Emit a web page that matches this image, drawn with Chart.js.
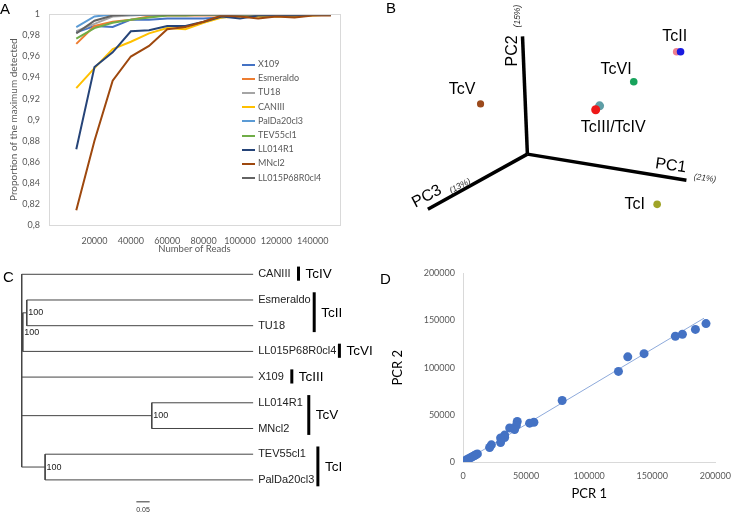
<!DOCTYPE html>
<html>
<head>
<meta charset="utf-8">
<script src="https://cdn.jsdelivr.net/npm/chart.js@4.4.0/dist/chart.umd.min.js"></script>
<style>
  body { margin: 0; background: #fff; width: 740px; height: 514px; position: relative; overflow: hidden; }
  .box { position: absolute; }
  .tag { position: absolute; font: 15px/1 "Liberation Sans", Arial, sans-serif; color: #000; }
  #legendA { position: absolute; left: 242px; top: 57px; font: 9px Lato, sans-serif; color: #595959; }
  #legendA div { height: 14.2px; line-height: 14.2px; white-space: nowrap; }
  #legendA span { display: inline-block; width: 13px; height: 2px; vertical-align: middle; margin-right: 3px; }
</style>
</head>
<body>
<div class="box" style="left:0;top:0;width:370px;height:260px"><canvas id="chartA"></canvas></div>
<div class="box" style="left:370px;top:0;width:370px;height:260px"><canvas id="chartB"></canvas></div>
<div class="box" style="left:0;top:260px;width:380px;height:254px"><canvas id="chartC"></canvas></div>
<div class="box" style="left:385px;top:260px;width:355px;height:254px"><canvas id="chartD"></canvas></div>
<div id="legendA"></div>
<div class="tag" style="left:0;top:1px">A</div>
<div class="tag" style="left:386px;top:0">B</div>
<div class="tag" style="left:3px;top:269px">C</div>
<div class="tag" style="left:380px;top:271px">D</div>
<script>
// --- panel A: saturation curves ---
const readCounts = [10000, 20000, 30000, 40000, 50000, 60000, 70000, 80000, 90000, 100000, 110000, 120000, 130000, 140000, 150000];
const readTicks = [20000, 40000, 60000, 80000, 100000, 120000, 140000];
const propTicks = [0.8, 0.82, 0.84, 0.86, 0.88, 0.9, 0.92, 0.94, 0.96, 0.98, 1];
const seriesNames = ['X109', 'Esmeraldo', 'TU18', 'CANIII', 'PalDa20cl3', 'TEV55cl1', 'LL014R1', 'MNcl2', 'LL015P68R0cl4'];
const seriesColors = ['#4472c4', '#ed7d31', '#a5a5a5', '#ffc000', '#5b9bd5', '#70ad47', '#264478', '#9e480e', '#636363'];
const x109 = [0.983, 0.989, 0.988, 0.995, 0.995, 0.996, 0.996, 0.996, 0.997, 0.999, 1, 1, 1, 1, 1];
const esmeraldo = [0.972, 0.989, 0.993, 0.995, 0.998, 0.999, 0.999, 0.999, 0.999, 1, 1, 1, 1, 1, 1];
const tu18 = [0.984, 0.991, 0.998, 0.999, 1, 1, 1, 1, 1, 1, 1, 1, 1, 1, 1];
const canIII = [0.930, 0.949, 0.967, 0.974, 0.982, 0.987, 0.986, 0.992, 0.997, 0.998, 0.998, 0.998, 0.998, 0.999, 1];
const palDa = [0.988, 0.998, 1, 1, 1, 1, 1, 1, 1, 1, 1, 1, 1, 1, 1];
const tev55 = [0.977, 0.987, 0.992, 0.995, 0.997, 0.999, 0.999, 1, 1, 1, 1, 1, 1, 1, 1];
const ll014 = [0.872, 0.950, 0.964, 0.984, 0.985, 0.989, 0.989, 0.993, 0.998, 0.996, 0.999, 0.999, 0.999, 1, 1];
const mncl2 = [0.814, 0.880, 0.937, 0.960, 0.970, 0.986, 0.988, 0.993, 0.999, 0.998, 0.996, 0.998, 0.997, 0.999, 0.999];
const ll015 = [0.982, 0.994, 0.999, 1, 1, 1, 1, 1, 1, 1, 1, 1, 1, 1, 1];
const seriesValues = [x109, esmeraldo, tu18, canIII, palDa, tev55, ll014, mncl2, ll015];

// --- panel B: PCA projection (arbitrary plane units, origin = axes origin) ---
const pcAxisNames = ['PC1', 'PC2', 'PC3'];
const pcAxisShare = ['(21%)', '(15%)', '(13%)'];
const pcAxisEndX = [16.3, -0.5, -10.2];
const pcAxisEndY = [-2.7, 12.2, -5.7];
const pcaPointX = [15.3, 15.7, 10.9, 7.4, 7.0, -4.8, 13.3];
const pcaPointY = [10.6, 10.6, 7.5, 5.0, 4.6, 5.2, -5.2];
const pcaPointColors = ['#ef7f8e', '#1a1ae0', '#18a35c', '#5e9ea6', '#ee1818', '#9c4a1c', '#a0a428'];
const pcaGroups = ['TcII', 'TcVI', 'TcIII/TcIV', 'TcV', 'TcI'];
const pcaGroupX = [15.1, 9.1, 8.8, -6.7, 11.0];
const pcaGroupY = [12.2, 8.8, 2.7, 6.7, -5.2];

// --- panel C: neighbour-joining tree ---
const leafNames = ['CANIII', 'Esmeraldo', 'TU18', 'LL015P68R0cl4', 'X109', 'LL014R1', 'MNcl2', 'TEV55cl1', 'PalDa20cl3'];
const tipDepth = 0.87;
const nodeDepth = [0.019, 0.004, 0.489, 0.088];
const nodeChildren = [['L1', 'L2'], ['N0', 'L3'], ['L5', 'L6'], ['L7', 'L8']];
const rootChildren = ['L0', 'N1', 'L4', 'N2', 'N3'];
const bootstrap = [100, 100, 100, 100];
const cladeNames = ['TcIV', 'TcII', 'TcVI', 'TcIII', 'TcV', 'TcI'];
const cladeFirst = [0, 1, 3, 4, 5, 7];
const cladeLast = [0, 2, 3, 4, 6, 8];
const scaleBarStart = 0.431;
const scaleBarLength = 0.05;

// --- panel D: PCR replicate counts ---
const pcr1 = [192600, 184200, 173900, 168300, 143500, 130600, 123200, 78600, 56200, 52800, 43000, 42300, 40900, 37000, 33000, 33000, 29800, 29800, 22500, 21100, 11400, 10200, 9200, 7900, 6600, 5300, 4000, 2600, 1300, 500];
const pcr2 = [146800, 140600, 135500, 133400, 114900, 111500, 96100, 65200, 42200, 41200, 42900, 38800, 34400, 36000, 28500, 26000, 25500, 20600, 18200, 15400, 8600, 7700, 6900, 5900, 5000, 4100, 3200, 2100, 1000, 300];
const trendX = [0, 191000];
const trendY = [0, 152500];
const pcrTicks = [0, 50000, 100000, 150000, 200000];

Chart.defaults.animation = false;
Chart.defaults.font.family = 'Lato, sans-serif';
Chart.defaults.plugins.legend.display = false;
Chart.defaults.plugins.tooltip.enabled = false;

const GREY = '#595959';
const SANS = '"Liberation Sans", Arial, sans-serif';

// light frame round the plot area (Excel style)
const frame = {
    id: 'frame',
    afterDraw(chart, args, opts) {
        const a = chart.chartArea, ctx = chart.ctx;
        ctx.save();
        ctx.strokeStyle = opts.color || '#d9d9d9';
        ctx.lineWidth = 1;
        ctx.strokeRect(Math.round(a.left) + 0.5, Math.round(a.top) + 0.5, Math.round(a.right - a.left), Math.round(a.bottom - a.top));
        ctx.restore();
    }
};

// ---------- A ----------
new Chart(document.getElementById('chartA'), {
    type: 'line',
    data: {
        datasets: seriesNames.map((name, i) => ({
            label: name,
            data: readCounts.map((r, j) => ({ x: r, y: seriesValues[i][j] })),
            borderColor: seriesColors[i],
            borderWidth: 2,
            pointRadius: 0,
            tension: 0,
            order: seriesNames.length - i
        }))
    },
    options: {
        responsive: true,
        maintainAspectRatio: false,
        layout: { padding: { left: 0, top: 9, right: 30, bottom: 0 } },
        scales: {
            x: {
                type: 'linear', min: -5000, max: 155000,
                afterBuildTicks: s => { s.ticks = readTicks.map(v => ({ value: v })); },
                afterFit: s => { s.height = 35; },
                grid: { display: false, drawTicks: false },
                border: { display: false },
                ticks: { color: GREY, font: { size: 9 }, padding: 11, maxRotation: 0, callback: v => String(v) },
                title: { display: true, text: 'Number of Reads', color: GREY, font: { size: 9.5 }, padding: { top: 0, bottom: 5 } }
            },
            y: {
                min: 0.8, max: 1,
                afterBuildTicks: s => { s.ticks = propTicks.map(v => ({ value: v })); },
                afterFit: s => { s.width = 49; },
                grid: { display: false, drawTicks: false },
                border: { display: false },
                ticks: { color: GREY, font: { size: 9 }, padding: 9, callback: v => String(Math.round(v * 100) / 100).replace('.', ',') },
                title: { display: true, text: 'Proportion of the maximum detected', color: GREY, font: { size: 10 }, padding: { top: 8, bottom: 0 } }
            }
        }
    },
    plugins: [frame]
});

const legendA = document.getElementById('legendA');
seriesNames.forEach((name, i) => {
    const row = document.createElement('div');
    row.innerHTML = `<span style="background:${seriesColors[i]}"></span>${name}`;
    legendA.appendChild(row);
});

// ---------- B ----------
const pcaText = {
    id: 'pcaText',
    afterDatasetsDraw(chart) {
        const { ctx, scales: { x, y } } = chart;
        const put = (txt, vx, vy, font, rot, color) => {
            ctx.save();
            ctx.translate(x.getPixelForValue(vx), y.getPixelForValue(vy));
            ctx.rotate(rot * Math.PI / 180);
            ctx.font = font;
            ctx.fillStyle = color;
            ctx.textAlign = 'center';
            ctx.textBaseline = 'middle';
            ctx.fillText(txt, 0, 0);
            ctx.restore();
        };
        pcaGroups.forEach((g, i) => put(g, pcaGroupX[i], pcaGroupY[i], '16px ' + SANS, 0, '#000'));
        // axis names placed near each axis end
        put(pcAxisNames[0], 14.7, -1.2, '16px ' + SANS, 8, '#000');
        put(pcAxisShare[0], 18.2, -2.5, 'italic 8.5px ' + SANS, 7, '#333');
        put(pcAxisNames[1], -1.5, 10.7, '16px ' + SANS, -90, '#000');
        put(pcAxisShare[1], -1.0, 14.3, 'italic 8.5px ' + SANS, -90, '#333');
        put(pcAxisNames[2], -10.3, -4.4, '16px ' + SANS, -28, '#000');
        put(pcAxisShare[2], -6.9, -3.3, 'italic 8.5px ' + SANS, -28, '#333');
    }
};

new Chart(document.getElementById('chartB'), {
    type: 'scatter',
    data: {
        datasets: pcAxisNames.map((n, i) => ({
            data: [{ x: 0, y: 0 }, { x: pcAxisEndX[i], y: pcAxisEndY[i] }],
            showLine: true,
            borderColor: '#000',
            borderWidth: 3.5,
            pointRadius: 0
        })).concat([{
            data: pcaPointX.map((v, i) => ({ x: v, y: pcaPointY[i] })),
            backgroundColor: pcaPointColors,
            borderColor: pcaPointColors,
            pointRadius: [3.8, 3.8, 3.8, 4.5, 4.5, 3.6, 3.8],
            borderWidth: 0
        }])
    },
    options: {
        responsive: true,
        maintainAspectRatio: false,
        layout: { padding: 0 },
        scales: {
            x: { display: false, min: -15.67, max: 21.33 },
            y: { display: false, min: -10.5, max: 15.5 }
        }
    },
    plugins: [pcaText]
});

// ---------- C ----------
const rowOf = id => {
    if (id[0] === 'L') return +id.slice(1);
    const rows = nodeChildren[+id.slice(1)].map(rowOf);
    return (Math.min(...rows) + Math.max(...rows)) / 2;
};
const depthOf = id => id[0] === 'L' ? tipDepth : nodeDepth[+id.slice(1)];
const branches = [];
const nodeRows = [];
function addClade(depth, children) {
    const rows = children.map(rowOf);
    branches.push([{ x: depth, y: Math.min(...rows) }, { x: depth, y: Math.max(...rows) }]);
    children.forEach((c, j) => {
        branches.push([{ x: depth, y: rows[j] }, { x: depthOf(c), y: rows[j] }]);
        if (c[0] === 'N') {
            const k = +c.slice(1);
            nodeRows[k] = rows[j];
            addClade(nodeDepth[k], nodeChildren[k]);
        }
    });
}
addClade(0, rootChildren);
const scaleBarRow = leafNames.length - 0.15;
const barGap = [8, 3.5, 3, 8, 6, 3.5]; // hand-placed bars in the original

const treeText = {
    id: 'treeText',
    afterDatasetsDraw(chart) {
        const { ctx, scales: { x, y } } = chart;
        ctx.save();
        ctx.textBaseline = 'middle';
        ctx.fillStyle = '#222';
        ctx.font = '11px ' + SANS;
        const tipPx = x.getPixelForValue(tipDepth);
        const ends = leafNames.map((name, i) => {
            ctx.fillText(name, tipPx + 5, y.getPixelForValue(i));
            return tipPx + 5 + ctx.measureText(name).width;
        });
        ctx.font = '9px ' + SANS;
        bootstrap.forEach((b, k) => ctx.fillText(String(b), x.getPixelForValue(nodeDepth[k]) + 1.5, y.getPixelForValue(nodeRows[k])));
        // clade bars and names
        ctx.font = '13.5px ' + SANS;
        ctx.fillStyle = '#000';
        ctx.strokeStyle = '#000';
        ctx.lineWidth = 3;
        cladeNames.forEach((c, i) => {
            const a = cladeFirst[i], b = cladeLast[i];
            const barX = Math.max(...ends.slice(a, b + 1)) + barGap[i];
            const y0 = y.getPixelForValue(a - 0.3), y1 = y.getPixelForValue(b + 0.25);
            ctx.beginPath();
            ctx.moveTo(barX, y0);
            ctx.lineTo(barX, y1);
            ctx.stroke();
            ctx.fillText(c, barX + 7, y.getPixelForValue((a + b) / 2));
        });
        ctx.font = '7px ' + SANS;
        ctx.fillStyle = '#333';
        ctx.textAlign = 'center';
        ctx.fillText(String(scaleBarLength), x.getPixelForValue(scaleBarStart + scaleBarLength / 2), y.getPixelForValue(scaleBarRow + 0.33));
        ctx.restore();
    }
};

new Chart(document.getElementById('chartC'), {
    type: 'scatter',
    data: {
        datasets: branches.map(seg => ({
            data: seg, showLine: true, borderColor: '#444', borderWidth: 1, pointRadius: 0
        })).concat([{
            data: [{ x: scaleBarStart, y: scaleBarRow }, { x: scaleBarStart + scaleBarLength, y: scaleBarRow }],
            showLine: true, borderColor: '#777', borderWidth: 1.5, pointRadius: 0
        }])
    },
    options: {
        responsive: true,
        maintainAspectRatio: false,
        layout: { padding: 0 },
        scales: {
            x: { display: false, min: -0.0816, max: -0.0816 + 380 / 266 },
            y: { display: false, reverse: true, min: -0.556, max: 9.327 }
        }
    },
    plugins: [treeText]
});

// ---------- D ----------
new Chart(document.getElementById('chartD'), {
    type: 'scatter',
    data: {
        datasets: [{
            data: pcr1.map((v, i) => ({ x: v, y: pcr2[i] })),
            backgroundColor: '#4472c4',
            borderColor: '#4472c4',
            pointRadius: 4.5,
            borderWidth: 0
        }, {
            data: trendX.map((v, i) => ({ x: v, y: trendY[i] })),
            showLine: true,
            borderColor: '#8eaadb',
            borderWidth: 1,
            pointRadius: 0
        }]
    },
    options: {
        responsive: true,
        maintainAspectRatio: false,
        layout: { padding: { left: 0, top: 7, right: 24, bottom: 0 } },
        scales: {
            x: {
                min: 0, max: 200000,
                afterBuildTicks: s => { s.ticks = pcrTicks.map(v => ({ value: v })); },
                afterFit: s => { s.height = 52; },
                grid: { display: false, drawTicks: false },
                border: { display: true, color: '#d9d9d9' },
                ticks: { color: GREY, font: { size: 9 }, padding: 9, maxRotation: 0, callback: v => String(v) },
                title: { display: true, text: 'PCR 1', color: '#000', font: { size: 13 }, padding: { top: 0, bottom: 12 } }
            },
            y: {
                min: 0, max: 200000,
                afterBuildTicks: s => { s.ticks = pcrTicks.map(v => ({ value: v })); },
                afterFit: s => { s.width = 78; },
                grid: { display: false, drawTicks: false },
                border: { display: true, color: '#d9d9d9' },
                ticks: { color: GREY, font: { size: 9 }, padding: 8, callback: v => String(v) },
                title: { display: true, text: 'PCR 2', color: '#000', font: { size: 13 }, padding: { top: 5, bottom: 0 } }
            }
        }
    }
});
</script>
</body>
</html>
